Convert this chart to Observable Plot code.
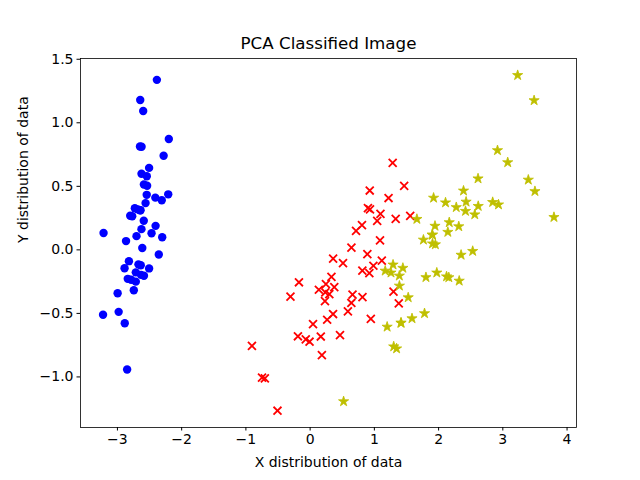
<!DOCTYPE html>
<html><head><meta charset="utf-8">
<script src="https://cdn.jsdelivr.net/npm/d3@7"></script>
<script src="https://cdn.jsdelivr.net/npm/@observablehq/plot@0.6"></script>
<style>body{margin:0;background:#fff}</style>
</head><body><div id="chart"></div>
<script>
const title = "PCA Classified Image";
const xLabel = "X distribution of data";
const yLabel = "Y distribution of data";
const xTicks = [-3, -2, -1, 0, 1, 2, 3, 4];
const yTicks = [-1.0, -0.5, 0.0, 0.5, 1.0, 1.5];

// class 0 (blue circles)
const c0x = [-2.684,-2.714,-2.889,-2.745,-2.729,-2.281,-2.821,-2.626,-2.886,-2.673,-2.507,-2.613,-2.786,-3.224,-2.645,-2.386,-2.624,-2.648,-2.200,-2.588,-2.310,-2.544,-3.216,-2.303,-2.356,-2.507,-2.469,-2.562,-2.640,-2.632,-2.587,-2.410,-2.649,-2.599,-2.637,-2.866,-2.625,-2.801,-2.981,-2.590,-2.770,-2.849,-2.997,-2.406,-2.209,-2.714,-2.538,-2.839,-2.543,-2.703];
const c0y = [0.319,-0.177,-0.145,-0.318,0.327,0.741,-0.089,0.163,-0.578,-0.114,0.645,0.015,-0.235,-0.511,1.179,1.338,0.811,0.312,0.873,0.514,0.391,0.433,0.133,0.099,-0.037,-0.146,0.131,0.368,0.312,-0.197,-0.204,0.411,0.813,1.093,-0.121,0.069,0.599,0.269,-0.488,0.229,0.264,-0.941,-0.342,0.189,0.437,-0.250,0.504,-0.228,0.579,0.108];
// class 1 (red crosses)
const c1x = [1.285,0.932,1.464,0.183,1.088,0.642,1.095,-0.749,1.044,-0.009,-0.508,0.512,0.265,0.985,-0.174,0.928,0.660,0.236,0.945,0.045,1.116,0.358,1.298,0.922,0.715,0.900,1.332,1.558,0.813,-0.306,-0.068,-0.190,0.136,1.380,0.588,0.807,1.221,0.815,0.246,0.166,0.465,0.891,0.231,-0.705,0.357,0.332,0.376,0.643,-0.906,0.299];
const c1y = [0.685,0.318,0.504,-0.828,0.075,-0.418,0.283,-1.005,0.228,-0.723,-1.266,-0.104,-0.550,-0.125,-0.255,0.467,-0.353,-0.334,-0.543,-0.584,-0.085,-0.069,-0.328,-0.183,0.149,0.329,0.244,0.267,-0.163,-0.368,-0.705,-0.680,-0.314,-0.421,-0.484,0.194,0.408,-0.372,-0.269,-0.682,-0.671,-0.034,-0.404,-1.012,-0.505,-0.213,-0.293,0.018,-0.756,-0.349];
// class 2 (yellow stars)
const c2x = [2.531,1.415,2.617,1.972,2.350,3.397,0.521,2.933,2.321,2.917,1.662,1.803,2.166,1.346,1.586,1.904,1.950,3.487,3.796,1.301,2.428,1.199,3.500,1.389,2.275,2.614,1.259,1.291,2.124,2.388,2.842,3.231,2.159,1.444,1.781,3.076,2.144,1.905,1.169,2.108,2.314,1.922,1.415,2.563,2.419,1.944,1.527,1.764,1.901,1.390];
const c2y = [-0.010,-0.575,0.344,-0.180,-0.040,0.551,-1.193,0.356,-0.244,0.783,0.242,-0.216,0.216,-0.777,-0.540,0.119,0.042,1.176,0.257,-0.761,0.378,-0.606,0.461,-0.204,0.335,0.561,-0.180,-0.117,-0.210,0.465,0.375,1.374,-0.217,-0.143,-0.500,0.688,0.140,0.049,-0.165,0.372,0.184,0.409,-0.575,0.278,0.305,0.188,-0.375,0.079,0.117,-0.283];

const pts = (xs, ys) => xs.map((x, i) => ({x, y: ys[i]}));
const p0 = pts(c0x, c0y), p1 = pts(c1x, c1y), p2 = pts(c2x, c2y);

const font = "DejaVu Sans, sans-serif";
const chart = Plot.plot({
  width: 640, height: 480,
  marginLeft: 80, marginRight: 64, marginTop: 58, marginBottom: 53,
  style: {fontFamily: font, fontSize: "14px", color: "#000", background: "#fff"},
  x: {domain: [-3.575, 4.147]},
  y: {domain: [-1.398, 1.506]},
  marks: [
    Plot.frame({stroke: "#000", strokeWidth: 0.8}),
    Plot.axisX({ticks: xTicks, tickSize: 3.5, tickPadding: 3.5, label: null, fontSize: 14, tickFormat: d3.format("d")}),
    Plot.axisY({ticks: yTicks, tickSize: 3.5, tickPadding: 3.5, label: null, fontSize: 14, tickFormat: d3.format(".1f")}),
    Plot.dot(p0, {x: "x", y: "y", r: 4.2, fill: "#0000ff", stroke: "none", symbol: "circle"}),
    Plot.dot(p1, {x: "x", y: "y", r: 3.7, stroke: "#ff0000", strokeWidth: 1.8, symbol: "times"}),
    Plot.dot(p2, {x: "x", y: "y", r: 3.2, fill: "#bfbf00", stroke: "#bfbf00", strokeWidth: 0.8, symbol: "star"}),
    Plot.text([title], {text: d => d, frameAnchor: "top", dy: -15, fontSize: 16.7, fill: "#000", lineAnchor: "middle"}),
    Plot.text([xLabel], {text: d => d, frameAnchor: "bottom", dy: 35, fontSize: 14, fill: "#000", lineAnchor: "middle"}),
    Plot.text([yLabel], {text: d => d, frameAnchor: "left", dx: -57, rotate: -90, fontSize: 14, fill: "#000", lineAnchor: "middle"})
  ]
});
document.getElementById("chart").appendChild(chart);
</script></body></html>
